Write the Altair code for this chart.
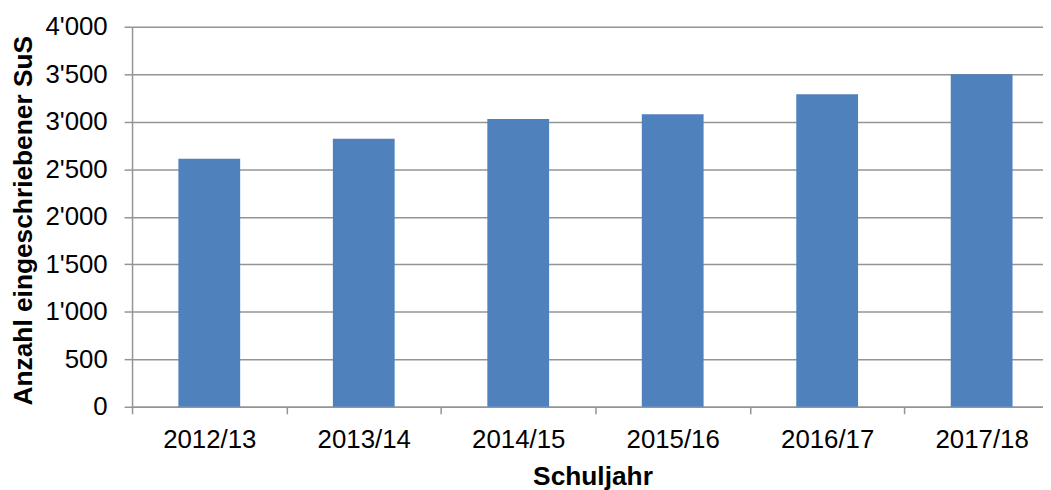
import altair as alt
import pandas as pd

years = ["2012/13", "2013/14", "2014/15", "2015/16", "2016/17", "2017/18"]
students = [2610, 2820, 3030, 3080, 3290, 3500]
y_ticks = [0, 500, 1000, 1500, 2000, 2500, 3000, 3500, 4000]

df = pd.DataFrame({"Schuljahr": years, "SuS": students})

FONT = "Liberation Sans"
GRID = "#949494"

chart = (
    alt.Chart(df)
    .mark_bar(color="#4F81BD", width=alt.RelativeBandSize(0.4))
    .encode(
        x=alt.X(
            "Schuljahr:N",
            sort=years,
            scale=alt.Scale(paddingInner=0, paddingOuter=0, rangeMax=934),
            axis=alt.Axis(
                title="Schuljahr",
                labelAngle=0,
                tickBand="extent",
                tickSize=7,
                tickColor=GRID,
                tickWidth=1.5,
                domainColor=GRID,
                domainWidth=1.5,
                labelFont=FONT,
                labelFontSize=26,
                labelColor="#000000",
                labelBaseline="alphabetic",
                labelPadding=34,
                titleFont=FONT,
                titleFontSize=26.5,
                titleFontWeight="bold",
                titleColor="#000000",
                titleX=464,
                titleY=78,
                titleBaseline="alphabetic",
                grid=False,
            ),
        ),
        y=alt.Y(
            "SuS:Q",
            scale=alt.Scale(domain=[0, 4000]),
            axis=alt.Axis(
                title="Anzahl eingeschriebener SuS",
                values=y_ticks,
                labelExpr="replace(format(datum.value, ','), ',', \"'\")",
                tickSize=8,
                tickColor=GRID,
                tickWidth=1.5,
                domainColor=GRID,
                domainWidth=1.5,
                gridColor=GRID,
                gridWidth=1.5,
                labelFont=FONT,
                labelFontSize=26,
                labelColor="#000000",
                labelPadding=17,
                titleFont=FONT,
                titleFontSize=26.5,
                titleFontWeight="bold",
                titleColor="#000000",
                titleAngle=-90,
                titleX=-109,
                titleY=195,
                titleBaseline="middle",
                titleAlign="center",
            ),
        ),
    )
    .properties(
        width=918,
        height=383,
        autosize=alt.AutoSizeParams(type="none"),
        padding={"left": 125, "top": 17, "right": 0, "bottom": 82},
    )
    .configure_view(strokeWidth=0)
)

chart.save("out.html", embed_options={"renderer": "svg", "actions": False})
